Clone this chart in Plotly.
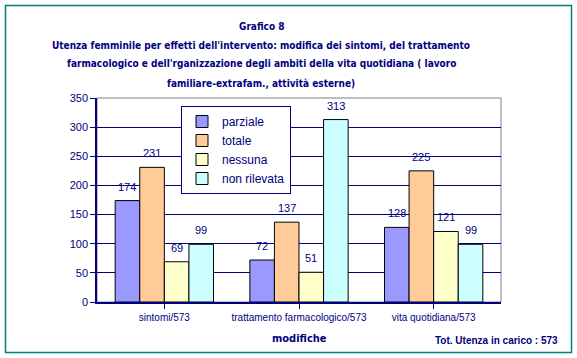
import plotly.graph_objects as go

categories = ["sintomi/573", "trattamento farmacologico/573", "vita quotidiana/573"]
series_names = ["parziale", "totale", "nessuna", "non rilevata"]
parziale = [174, 72, 128]
totale = [231, 137, 225]
nessuna = [69, 51, 121]
non_rilevata = [99, 313, 99]
series_values = [parziale, totale, nessuna, non_rilevata]
colors = ["#9999FF", "#FFCC99", "#FFFFCC", "#CCFFFF"]
y_ticks = [0, 50, 100, 150, 200, 250, 300, 350]

title_lines = [
    "Grafico 8",
    "Utenza femminile per effetti dell'intervento: modifica dei sintomi, del trattamento",
    "farmacologico e dell'rganizzazione degli ambiti della vita quotidiana ( lavoro",
    "familiare-extrafam., attività esterne)",
]

NAVY = "#000080"
W, H = 577, 358
L, R, T, B = 97, 76, 98, 56
pw, ph = W - L - R, H - T - B


def px_x(x):
    return (x - L) / pw


def px_y(y):
    return (H - B - y) / ph


bargap = 0.27
fig = go.Figure()
for name, vals, col in zip(series_names, series_values, colors):
    fig.add_trace(go.Bar(
        name=name, x=list(range(len(categories))), y=vals,
        marker=dict(color=col, line=dict(color="black", width=1)),
    ))

# data labels above the bars
n = len(series_names)
bw = (1 - bargap) / n
annotations = []
for j, vals in enumerate(series_values):
    off = -(1 - bargap) / 2 + bw * (j + 0.5)
    for i, v in enumerate(vals):
        annotations.append(dict(
            x=i + off, y=v, xref="x", yref="y", text=str(v), showarrow=False,
            yanchor="bottom", yshift=6,
            font=dict(family="Liberation Sans", size=11, color=NAVY)))

title_y = [27, 45, 64, 83]
for txt, yy in zip(title_lines, title_y):
    annotations.append(dict(
        x=px_x(261), y=px_y(yy), xref="paper", yref="paper", text="<b>%s</b>" % txt,
        showarrow=False, xanchor="center", yanchor="middle",
        font=dict(family="DejaVu Sans Condensed, DejaVu Sans", size=10, color=NAVY)))

annotations.append(dict(
    x=px_x(299), y=px_y(338), xref="paper", yref="paper", text="<b>modifiche</b>",
    showarrow=False, xanchor="center", yanchor="middle",
    font=dict(family="DejaVu Sans Condensed, DejaVu Sans", size=11, color=NAVY)))
annotations.append(dict(
    x=px_x(560), y=px_y(340), xref="paper", yref="paper",
    text="<b>Tot. Utenza in carico : 573</b>",
    showarrow=False, xanchor="right", yanchor="middle",
    font=dict(family="Liberation Sans", size=10, color=NAVY)))

shapes = [
    # outer frame
    dict(type="rect", xref="paper", yref="paper",
         x0=px_x(5.5), x1=px_x(571.5), y0=px_y(352.5), y1=px_y(5.5),
         line=dict(color="#008080", width=1.5), layer="below"),
    # plot area border (gray top/right)
    dict(type="rect", xref="paper", yref="paper", x0=0, x1=1, y0=0, y1=1,
         line=dict(color="#808080", width=1), layer="below"),
]

fig.update_layout(
    width=W, height=H, margin=dict(l=L, r=R, t=T, b=B, pad=0),
    paper_bgcolor="white", plot_bgcolor="white",
    barmode="group", bargap=bargap, bargroupgap=0,
    showlegend=True,
    legend=dict(x=px_x(181), y=px_y(106), xanchor="left", yanchor="top",
                bgcolor="white", bordercolor=NAVY, borderwidth=1,
                font=dict(family="Liberation Sans", size=12, color=NAVY),
                tracegroupgap=0, itemwidth=30),
    annotations=annotations, shapes=shapes,
    xaxis=dict(tickmode="array", tickvals=list(range(len(categories))),
               ticktext=categories, range=[-0.5, 2.5],
               showline=True, linecolor=NAVY, linewidth=1.5,
               ticks="outside", tickson="boundaries", ticklen=5, tickcolor=NAVY,
               tickfont=dict(family="Liberation Sans", size=10, color=NAVY),
               showgrid=False, zeroline=False),
    yaxis=dict(range=[0, 350], tickvals=y_ticks,
               showline=True, linecolor=NAVY, linewidth=1.5,
               ticks="outside", ticklen=5, tickcolor=NAVY,
               tickfont=dict(family="Liberation Sans", size=11, color=NAVY),
               showgrid=True, gridcolor=NAVY, gridwidth=1, zeroline=False),
)

fig.write_html(
    "out.html",
    config={"displayModeBar": False},
    post_script="document.body.style.margin='0';document.body.style.overflow='hidden';",
)
